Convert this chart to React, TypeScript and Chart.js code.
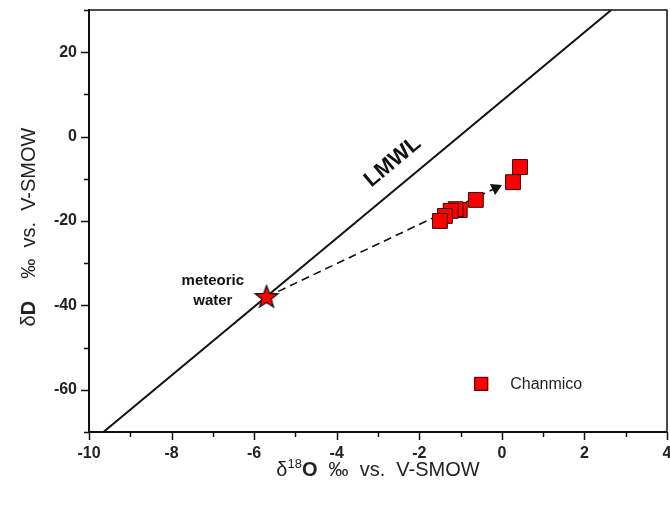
import React, { useEffect, useRef } from "react";
import { Chart, registerables } from "chart.js";
Chart.register(...registerables);

// ---- data ----
const xRange = [-10, 4];
const yRange = [-70, 30];
const xLabelStep = 2;
const yLabelValues = [-60, -40, -20, 0, 20];

const chanmicoX = [0.44, 0.27, -0.63, -1.02, -1.12, -1.24, -1.38, -1.5];
const chanmicoY = [-7.2, -10.8, -15.0, -17.4, -17.2, -17.6, -18.8, -20.0];

const lmwlX = [-9.65, 2.65];
const lmwlY = [-70, 30];

const meteoricX = [-5.7];
const meteoricY = [-38];

const trendX = [-5.7, -0.15];
const trendY = [-38, -12.2];

const lmwlLabel = { text: "LMWL", x: -2.64, y: -6 };
const meteoricLabel = { lines: ["meteoric", "water"], x: -7.0, y: [-34.2, -38.9] };
const legendPos = { text: "Chanmico", x: -0.5, y: -58.6 };

const FONT = "'Liberation Sans', Arial, Helvetica, sans-serif";

function makeStar(): HTMLCanvasElement {
  const c = document.createElement("canvas");
  c.width = 28;
  c.height = 28;
  const g = c.getContext("2d")!;
  const cx = 14, cy = 14.5, R = 12, r = 5;
  g.beginPath();
  for (let i = 0; i < 10; i++) {
    const rad = i % 2 === 0 ? R : r;
    const ang = -Math.PI / 2 + (i * Math.PI) / 5;
    const px = cx + rad * Math.cos(ang);
    const py = cy + rad * Math.sin(ang);
    if (i === 0) g.moveTo(px, py);
    else g.lineTo(px, py);
  }
  g.closePath();
  g.fillStyle = "#ff0000";
  g.fill();
  g.lineWidth = 1.2;
  g.strokeStyle = "#111";
  g.stroke();
  return c;
}

const decorPlugin = {
  id: "decor",
  afterDatasetsDraw(chart: any) {
    const { ctx, chartArea: a, scales } = chart;
    const xs = scales.x;
    const ys = scales.y;
    ctx.save();
    ctx.strokeStyle = "#111";
    ctx.fillStyle = "#111";
    // frame
    ctx.lineWidth = 1.5;
    ctx.strokeRect(a.left, a.top, a.right - a.left, a.bottom - a.top);
    ctx.lineWidth = 2;
    ctx.beginPath();
    ctx.moveTo(a.left, a.top - 1);
    ctx.lineTo(a.left, a.bottom);
    ctx.lineTo(a.right, a.bottom);
    ctx.stroke();
    // ticks
    ctx.lineWidth = 1.5;
    ctx.beginPath();
    for (const t of ys.ticks) {
      const py = Math.round(ys.getPixelForValue(t.value)) + 0.5;
      const len = yLabelValues.includes(t.value) ? 8 : 5;
      ctx.moveTo(a.left - len, py);
      ctx.lineTo(a.left, py);
    }
    for (const t of xs.ticks) {
      const px = Math.round(xs.getPixelForValue(t.value)) + 0.5;
      const len = t.value % xLabelStep === 0 ? 8 : 5;
      ctx.moveTo(px, a.bottom);
      ctx.lineTo(px, a.bottom + len);
    }
    ctx.stroke();

    // LMWL label
    const p0x = xs.getPixelForValue(lmwlX[0]);
    const p0y = ys.getPixelForValue(lmwlY[0]);
    const p1x = xs.getPixelForValue(lmwlX[1]);
    const p1y = ys.getPixelForValue(lmwlY[1]);
    const ang = Math.atan2(p1y - p0y, p1x - p0x);
    ctx.save();
    ctx.translate(xs.getPixelForValue(lmwlLabel.x), ys.getPixelForValue(lmwlLabel.y));
    ctx.rotate(ang);
    ctx.font = `bold 22px ${FONT}`;
    ctx.textAlign = "center";
    ctx.textBaseline = "middle";
    ctx.fillText(lmwlLabel.text, 0, 0);
    ctx.restore();

    // meteoric water label
    ctx.font = `bold 15px ${FONT}`;
    ctx.textAlign = "center";
    ctx.textBaseline = "middle";
    meteoricLabel.lines.forEach((s, i) => {
      ctx.fillText(s, xs.getPixelForValue(meteoricLabel.x), ys.getPixelForValue(meteoricLabel.y[i]));
    });

    // legend
    const lx = xs.getPixelForValue(legendPos.x);
    const ly = ys.getPixelForValue(legendPos.y);
    ctx.fillStyle = "#ff0000";
    ctx.fillRect(lx - 7, ly - 7, 14, 14);
    ctx.lineWidth = 1;
    ctx.strokeStyle = "#400";
    ctx.strokeRect(lx - 7 + 0.5, ly - 7 + 0.5, 13, 13);
    ctx.fillStyle = "#222";
    ctx.font = `16px ${FONT}`;
    ctx.textAlign = "left";
    ctx.fillText(legendPos.text, lx + 29, ly + 1);

    // axis titles
    const drawParts = (parts: { t: string; f: string; dy?: number }[], cx: number, cy: number, rot: number) => {
      ctx.save();
      ctx.translate(cx, cy);
      ctx.rotate(rot);
      ctx.textAlign = "left";
      ctx.textBaseline = "alphabetic";
      ctx.fillStyle = "#222";
      let total = 0;
      for (const p of parts) {
        ctx.font = p.f;
        total += ctx.measureText(p.t).width;
      }
      let x = -total / 2;
      for (const p of parts) {
        ctx.font = p.f;
        ctx.fillText(p.t, x, 7 + (p.dy || 0));
        x += ctx.measureText(p.t).width;
      }
      ctx.restore();
    };
    const cxMid = (a.left + a.right) / 2;
    drawParts(
      [
        { t: "\u03B4", f: `20px ${FONT}` },
        { t: "18", f: `13px ${FONT}`, dy: -8 },
        { t: "O", f: `bold 20px ${FONT}` },
        { t: "  \u2030  vs.  V-SMOW", f: `20px ${FONT}` },
      ],
      cxMid,
      a.bottom + 37,
      0
    );
    drawParts(
      [
        { t: "\u03B4", f: `20px ${FONT}` },
        { t: "D", f: `bold 20px ${FONT}` },
        { t: "    \u2030  vs.  V-SMOW", f: `20px ${FONT}` },
      ],
      28,
      (a.top + a.bottom) / 2 + 6,
      -Math.PI / 2
    );
    ctx.restore();
  },
};

const zeroPad = (s: any, vertical: boolean) => {
  s.paddingLeft = 0;
  s.paddingRight = 0;
  s.paddingTop = 0;
  s.paddingBottom = 0;
  if (vertical) s.width = 89;
  else s.height = 74;
};

export default function App() {
  const ref = useRef<HTMLCanvasElement>(null);
  useEffect(() => {
    const star = makeStar();
    const chart = new Chart(ref.current!, {
      type: "scatter",
      data: {
        datasets: [
          {
            label: "Chanmico",
            data: chanmicoX.map((x, i) => ({ x, y: chanmicoY[i] })),
            pointStyle: "rect",
            pointRadius: 10.5,
            backgroundColor: "#ff0000",
            borderColor: "#3a0000",
            borderWidth: 1,
            order: 0,
          },
          {
            label: "meteoric water",
            data: meteoricX.map((x, i) => ({ x, y: meteoricY[i] })),
            pointStyle: star as any,
            pointRadius: 12,
            order: 1,
          },
          {
            label: "trend",
            type: "line",
            data: trendX.map((x, i) => ({ x, y: trendY[i] })),
            borderColor: "#111",
            borderWidth: 1.6,
            borderDash: [8, 5],
            pointRadius: [0, 7],
            pointStyle: "triangle",
            backgroundColor: "#111",
            pointBackgroundColor: "#111",
            pointBorderColor: "#111",
            pointBorderWidth: 0,
            pointRotation: (c: any) => {
              const xs = c.chart.scales.x;
              const ys = c.chart.scales.y;
              const dx = xs.getPixelForValue(trendX[1]) - xs.getPixelForValue(trendX[0]);
              const dy = ys.getPixelForValue(trendY[1]) - ys.getPixelForValue(trendY[0]);
              return (Math.atan2(dx, -dy) * 180) / Math.PI;
            },
            fill: false,
            order: 2,
          } as any,
          {
            label: "LMWL",
            type: "line",
            data: lmwlX.map((x, i) => ({ x, y: lmwlY[i] })),
            borderColor: "#111",
            borderWidth: 2,
            pointRadius: 0,
            fill: false,
            order: 3,
          } as any,
        ],
      },
      options: {
        animation: false,
        responsive: false,
        events: [],
        layout: { autoPadding: false, padding: { left: 0, top: 10, right: 3, bottom: 0 } },
        plugins: { legend: { display: false }, tooltip: { enabled: false } },
        scales: {
          x: {
            type: "linear",
            min: xRange[0],
            max: xRange[1],
            grid: { display: false, drawTicks: false },
            border: { display: false },
            ticks: {
              stepSize: 1,
              padding: 12,
              color: "#222",
              font: { family: FONT, size: 16, weight: "bold" },
              autoSkip: false,
              maxRotation: 0,
              callback: (v: any) => (Number(v) % xLabelStep === 0 ? String(v) : ""),
            },
            afterFit: (s: any) => zeroPad(s, false),
          },
          y: {
            type: "linear",
            min: yRange[0],
            max: yRange[1],
            grid: { display: false, drawTicks: false },
            border: { display: false },
            ticks: {
              stepSize: 10,
              padding: 12,
              color: "#222",
              font: { family: FONT, size: 16, weight: "bold" },
              autoSkip: false,
              callback: (v: any) => (yLabelValues.includes(Number(v)) ? String(v) : ""),
            },
            afterFit: (s: any) => zeroPad(s, true),
          },
        },
      },
      plugins: [decorPlugin],
    });
    return () => chart.destroy();
  }, []);
  return (
    <canvas
      ref={ref}
      width={670}
      height={506}
      style={{ position: "absolute", left: 0, top: 0, width: 670, height: 506 }}
    />
  );
}
